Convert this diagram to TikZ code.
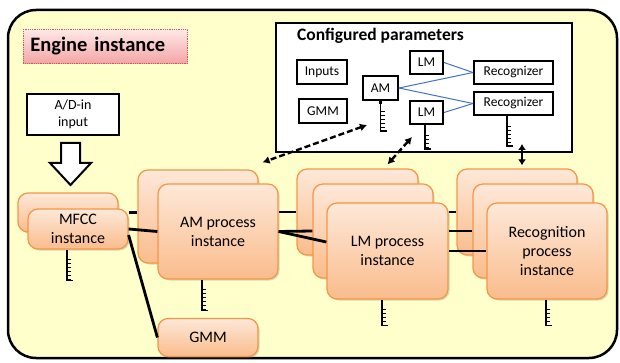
\documentclass[tikz,border=0pt]{standalone}
\usepackage{fontspec}
\setmainfont{Carlito}
\usepackage{tikz}
\usetikzlibrary{shapes, arrows, arrows.meta, positioning, shadows}

\definecolor{paleyellow}{RGB}{255,255,204}
\definecolor{proctop}{RGB}{253,232,216}
\definecolor{procbot}{RGB}{250,188,140}
\definecolor{procedge}{RGB}{245,150,70}
\definecolor{titletop}{RGB}{255,232,232}
\definecolor{titlebot}{RGB}{243,165,165}
\definecolor{titleedge}{RGB}{200,90,90}
\definecolor{modelblue}{RGB}{68,114,196}

\tikzset{
    pics/queue/.style={code={
        \fill (-1.2,0) rectangle (1.2,3);
        \draw[line width=1.3pt] (0,0) -- (0,#1);
        \foreach \t in {10,14,...,#1} \draw[line width=0.8pt] (0,\t) -- (4,\t);
        \draw[line width=1.3pt] (-0.6,#1) -- (6,#1);
    }}
}

\begin{document}
\begin{tikzpicture}[x=1pt, y=-1pt, >={Latex[length=7pt, width=8pt]},
    proc/.style={draw=procedge, line width=1.2pt, rounded corners=10pt, top color=proctop, bottom color=procbot,
        drop shadow={shadow xshift=1.5pt, shadow yshift=-1.5pt, opacity=0.3}, align=center,
        font=\fontsize{16}{19}\selectfont},
    param/.style={draw, line width=2pt, fill=white, inner sep=0pt, font=\fontsize{13.5}{16}\selectfont},
    link/.style={line width=2.8pt},
    modlink/.style={draw=modelblue, line width=1pt},
    fetch/.style={<->, line width=2.4pt, dash pattern=on 6pt off 3pt}]

    \useasboundingbox (0,0) rectangle (620,363);
    \draw[line width=2.5pt, fill=paleyellow, rounded corners=28pt] (8,10) rectangle (617,358);

    \node (title) [draw=titleedge, densely dotted, line width=0.8pt, top color=titletop, bottom color=titlebot,
        anchor=north west, text width=150pt, inner xsep=7pt, minimum height=34pt, align=left,
        font=\bfseries\fontsize{20.5}{24}\selectfont] at (23,29) {Engine instance};

    \node (adin) [param, minimum width=92pt, minimum height=41pt, align=center, font=\fontsize{14}{17}\selectfont] at (73,114.5) {A/D-in\\input};
    \draw[line width=2pt, fill=white] (61,143) -- (80,143) -- (80,163) -- (91,163) -- (70.5,185) -- (50,163) -- (61,163) -- cycle;

    % configured parameters
    \node (cfg) [draw, line width=2pt, fill=white, minimum width=296pt, minimum height=129pt] at (424,87.5) {};
    \node (cfgtitle) [anchor=base west, inner sep=0pt, font=\bfseries\fontsize{17.5}{20}\selectfont] at (297,41) {Configured parameters};
    \node (inputs) [param, minimum width=50pt, minimum height=24pt] at (322,72) {Inputs};
    \node (gmmp) [param, minimum width=48pt, minimum height=24pt] at (323,111) {GMM};
    \node (am) [param, minimum width=35pt, minimum height=24pt] at (380.5,88) {AM};
    \node (lmtop) [param, minimum width=33pt, minimum height=23pt] at (426.5,62.5) {LM};
    \node (lmbot) [param, minimum width=33pt, minimum height=23pt] at (426.5,112.5) {LM};
    \node (rectop) [param, minimum width=79pt, minimum height=23pt] at (513.5,72.5) {Recognizer};
    \node (recbot) [param, minimum width=79pt, minimum height=23pt] at (513.5,103.5) {Recognizer};

    \draw[modlink] (lmtop.east) -- (rectop.west);
    \draw[modlink] (am.east) -- (rectop.west);
    \draw[modlink] (am.east) -- (recbot.west);
    \draw[modlink] (lmbot.east) -- (recbot.west);

    \pic at (am.south) {queue=30};
    \pic at ([xshift=-1.5pt]lmbot.south) {queue=24};
    \pic at ([xshift=-6.5pt]recbot.south) {queue=30};

    % process instances
    \node (mfccA) [proc, minimum width=100pt, minimum height=39pt] at (68,212.5) {};
    \node (mfccB) [proc, minimum width=100pt, minimum height=40pt] at (78,229) {MFCC\\instance};
    \node (amA) [proc, minimum width=120pt, minimum height=93pt] at (198,216.5) {};
    \node (amB) [proc, minimum width=120pt, minimum height=95pt] at (218,231.5) {AM process\\instance};
    \node (lmA) [proc, minimum width=121pt, minimum height=86pt] at (357.5,212) {};
    \node (lmB) [proc, minimum width=120pt, minimum height=94pt] at (373,231) {};
    \node (lmC) [proc, minimum width=121pt, minimum height=96pt] at (387.5,251) {LM process\\instance};
    \node (recA) [proc, minimum width=120pt, minimum height=86pt] at (517,212) {};
    \node (recB) [proc, minimum width=120pt, minimum height=94pt] at (533,231) {};
    \node (recC) [proc, minimum width=120pt, minimum height=96pt] at (547,251) {Recognition\\process\\instance};
    \node (gmm) [proc, minimum width=100pt, minimum height=38pt] at (208,337.5) {GMM};

    \pic at ([xshift=-11pt]mfccB.south) {queue=31};
    \pic at ([xshift=-16pt]amB.south) {queue=31};
    \pic at ([xshift=-5.5pt]lmC.south) {queue=26};
    \pic at ([xshift=-1pt]recC.south) {queue=26};

    \draw[link] (mfccB.east |- mfccA.east) -- (amA.west |- mfccA.east);
    \draw[link] (mfccB.east) -- (amB.west);
    \draw[link] ([yshift=-6pt]mfccB.east) -- (gmm.west);
    \draw[link] (amB.east |- lmA.west) -- (lmA.west);
    \draw[link] (amB.east) -- (lmB.west);
    \draw[link] (amB.east) -- ([yshift=9pt]lmC.west);
    \draw[link] (lmC.east |- lmA.east) -- (recA.west |- lmA.east);
    \draw[link] (lmC.east |- lmB.east) -- (recB.west |- lmB.east);
    \draw[link] (lmC.east) -- (recC.west);

    % parameter fetches
    \coordinate (amfree) at (367,125);
    \coordinate (lmfree) at (412,137);
    \coordinate (recfree) at ([shift={(5pt,3pt)}]recA.north);
    \draw[fetch] (amfree) -- ([shift={(4pt,7pt)}]amA.north east);
    \draw[fetch] (lmfree) -- ([shift={(30pt,4pt)}]lmA.north);
    \draw[{Latex[length=6pt, width=8pt]}-{Latex[length=6pt, width=8pt]}, line width=2.2pt] ([yshift=9pt]recfree |- cfg.south) -- (recfree);
\end{tikzpicture}
\end{document}
